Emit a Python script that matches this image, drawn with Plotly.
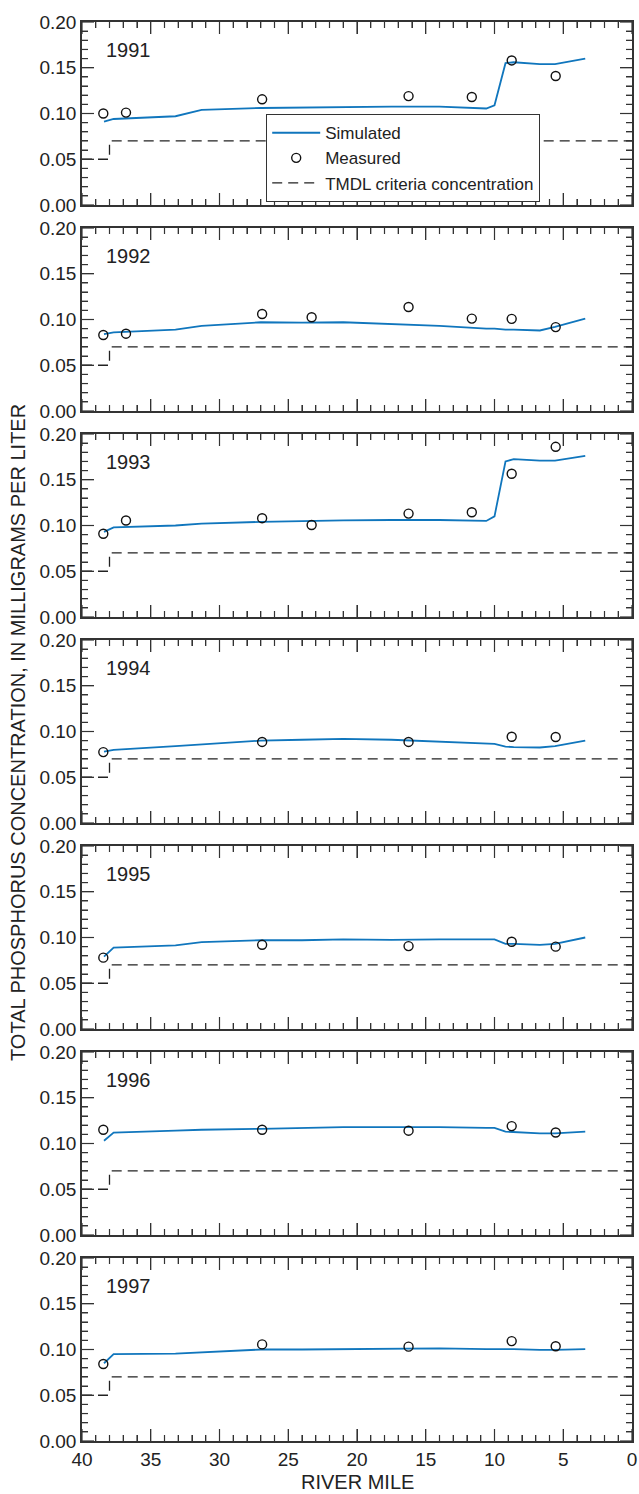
import plotly.graph_objects as go

# Panel years (top to bottom)
YEARS = [1991, 1992, 1993, 1994, 1995, 1996, 1997]

# River miles of simulated-profile nodes
SIM_MILES = [38.4, 37.7, 33.2, 31.3, 27.0, 24.0, 21.0, 17.5, 14.0, 10.6, 10.0, 9.2, 8.6, 6.7, 5.6, 3.4]

# Simulated total phosphorus (mg/L) at each node, per year
SIM_1991 = [0.091, 0.094, 0.097, 0.104, 0.106, 0.1065, 0.1075, 0.1075, 0.1075, 0.1055, 0.109, 0.155, 0.156, 0.154, 0.154, 0.160]
SIM_1992 = [0.084, 0.086, 0.089, 0.093, 0.097, 0.0965, 0.097, 0.095, 0.093, 0.090, 0.090, 0.089, 0.089, 0.088, 0.092, 0.101]
SIM_1993 = [0.093, 0.098, 0.100, 0.102, 0.104, 0.105, 0.1055, 0.106, 0.106, 0.105, 0.110, 0.170, 0.1725, 0.171, 0.171, 0.176]
SIM_1994 = [0.078, 0.080, 0.084, 0.086, 0.090, 0.091, 0.092, 0.091, 0.089, 0.0875, 0.0865, 0.0835, 0.083, 0.0825, 0.084, 0.090]
SIM_1995 = [0.079, 0.089, 0.0915, 0.095, 0.097, 0.097, 0.098, 0.0975, 0.098, 0.0975, 0.098, 0.093, 0.093, 0.092, 0.093, 0.100]
SIM_1996 = [0.103, 0.112, 0.114, 0.115, 0.116, 0.117, 0.118, 0.118, 0.118, 0.117, 0.117, 0.113, 0.1125, 0.111, 0.111, 0.113]
SIM_1997 = [0.085, 0.095, 0.0955, 0.097, 0.100, 0.100, 0.1005, 0.1005, 0.1013, 0.1005, 0.1005, 0.1005, 0.1005, 0.0995, 0.0995, 0.1005]

# Sampling-site river miles
SITE_MILES = [38.45, 36.8, 26.9, 23.3, 16.25, 11.65, 8.75, 5.55]

# Measured total phosphorus (mg/L); None where a site was not sampled
MEAS_1991 = [0.100, 0.101, 0.1155, None, 0.119, 0.118, 0.158, 0.141]
MEAS_1992 = [0.083, 0.0845, 0.106, 0.1025, 0.1137, 0.101, 0.1007, 0.0917]
MEAS_1993 = [0.091, 0.1055, 0.108, 0.1005, 0.113, 0.1145, 0.1566, 0.186]
MEAS_1994 = [0.0775, None, 0.0886, None, 0.0886, None, 0.0943, 0.094]
MEAS_1995 = [0.078, None, 0.092, None, 0.0906, None, 0.0953, 0.090]
MEAS_1996 = [0.115, None, 0.115, None, 0.114, None, 0.119, 0.112]
MEAS_1997 = [0.0841, None, 0.1056, None, 0.1031, None, 0.1092, 0.1035]

# TMDL criteria concentration step
TMDL_MILES = [40, 38, 38, 0]
TMDL_VALUES = [0.05, 0.05, 0.07, 0.07]

# Tick positions (river mile and concentration)
X_MAJOR = list(range(0, 41, 5))
X_MINOR = [v for v in range(0, 41) if v % 5]
Y_MAJOR = [k / 100 for k in range(0, 21, 5)]
Y_MINOR = [k / 100 for k in range(0, 21) if k % 5]

SIM = [SIM_1991, SIM_1992, SIM_1993, SIM_1994, SIM_1995, SIM_1996, SIM_1997]
MEAS = [MEAS_1991, MEAS_1992, MEAS_1993, MEAS_1994, MEAS_1995, MEAS_1996, MEAS_1997]

W, H = 639, 1494
M_L, M_R, M_T, M_B = 82, 7, 22, 52
PLOT_W = W - M_L - M_R
PLOT_H = H - M_T - M_B
PANEL_H, GAP = 183, 23
MAJOR_LEN, MINOR_LEN = 12, 6

FONT = "Liberation Sans, Arial, sans-serif"
TEXT_COLOR = "#222222"
AXIS_COLOR = "#333333"
BLUE = "#1076bd"
DASH = "10px,6px"

fig = go.Figure()
layout = dict()
annotations = []
shapes = []


def axis_style(major, minor):
    return dict(
        dtick=major, tick0=0,
        ticks="inside", ticklen=MAJOR_LEN, tickwidth=1.2, tickcolor=AXIS_COLOR,
        minor=dict(ticks="inside", ticklen=MINOR_LEN, dtick=minor, tickwidth=1.2, tickcolor=AXIS_COLOR),
        showline=True, linecolor=AXIS_COLOR, linewidth=1.5, mirror="allticks",
        showgrid=False, zeroline=False,
        tickfont=dict(family=FONT, size=19, color=TEXT_COLOR),
    )


def tick_marks(xa, ya):
    """Inward tick marks on all four sides of one panel."""
    out = []
    tick_line = dict(color=AXIS_COLOR, width=1.2)
    for vals, length in ((X_MAJOR, MAJOR_LEN), (X_MINOR, MINOR_LEN)):
        f = length / PANEL_H
        for v in vals:
            for y0, y1 in ((0, f), (1, 1 - f)):
                out.append(dict(type="line", xref=xa, yref=f"{ya} domain",
                                x0=v, x1=v, y0=y0, y1=y1, line=tick_line))
    for vals, length in ((Y_MAJOR, MAJOR_LEN), (Y_MINOR, MINOR_LEN)):
        f = length / PLOT_W
        for v in vals:
            for x0, x1 in ((0, f), (1, 1 - f)):
                out.append(dict(type="line", xref=f"{xa} domain", yref=ya,
                                x0=x0, x1=x1, y0=v, y1=v, line=tick_line))
    return out


for i, year in enumerate(YEARS):
    n = i + 1
    xa = "x" if n == 1 else f"x{n}"
    ya = "y" if n == 1 else f"y{n}"
    top_px = M_T + i * (PANEL_H + GAP)
    bot_px = top_px + PANEL_H
    dom = [1 - (bot_px - M_T) / PLOT_H, 1 - (top_px - M_T) / PLOT_H]
    first = i == 0
    last = i == len(YEARS) - 1

    # traces in legend order: simulated, measured, criteria
    fig.add_trace(go.Scatter(
        x=SIM_MILES, y=SIM[i], mode="lines", name="Simulated",
        line=dict(color=BLUE, width=1.8),
        xaxis=xa, yaxis=ya, showlegend=first))
    fig.add_trace(go.Scatter(
        x=SITE_MILES, y=MEAS[i], mode="markers", name="Measured",
        marker=dict(symbol="circle-open", size=9, color="#111111", line=dict(width=1.4)),
        xaxis=xa, yaxis=ya, showlegend=first))
    fig.add_trace(go.Scatter(
        x=TMDL_MILES, y=TMDL_VALUES, mode="lines", name="TMDL criteria concentration",
        line=dict(color=TEXT_COLOR, width=1.3, dash=DASH),
        xaxis=xa, yaxis=ya, showlegend=first))

    xkey = "xaxis" if n == 1 else f"xaxis{n}"
    ykey = "yaxis" if n == 1 else f"yaxis{n}"
    layout[xkey] = dict(domain=[0, 1], anchor=ya, range=[40, 0],
                        showticklabels=last, **axis_style(5, 1))
    layout[ykey] = dict(domain=dom, anchor=xa, range=[0, 0.2], tickformat=".2f",
                        **axis_style(0.05, 0.01))
    shapes.extend(tick_marks(xa, ya))
    annotations.append(dict(
        text=str(year), xref="paper", yref="paper",
        x=(104 - M_L) / PLOT_W, y=1 - (top_px + 28 - M_T) / PLOT_H,
        xanchor="left", yanchor="middle", showarrow=False,
        font=dict(family=FONT, size=20, color=TEXT_COLOR)))

annotations.append(dict(
    text="TOTAL PHOSPHORUS CONCENTRATION, IN MILLIGRAMS PER LITER",
    xref="paper", yref="paper", x=(18 - M_L) / PLOT_W, y=1 - (733 - M_T) / PLOT_H,
    xanchor="center", yanchor="middle", textangle=-90, showarrow=False,
    font=dict(family=FONT, size=20, color=TEXT_COLOR)))
annotations.append(dict(
    text="RIVER MILE", xref="paper", yref="paper",
    x=0.5, y=1 - (1482 - M_T) / PLOT_H, xanchor="center", yanchor="middle", showarrow=False,
    font=dict(family=FONT, size=20, color=TEXT_COLOR)))

fig.update_layout(
    width=W, height=H,
    margin=dict(l=M_L, r=M_R, t=M_T, b=M_B, autoexpand=False),
    paper_bgcolor="white", plot_bgcolor="white",
    annotations=annotations,
    shapes=shapes,
    showlegend=True,
    legend=dict(
        x=(266 - M_L) / PLOT_W, y=1 - (114 - M_T) / PLOT_H,
        xanchor="left", yanchor="top",
        bgcolor="white", bordercolor=AXIS_COLOR, borderwidth=1.2,
        font=dict(family=FONT, size=17, color=TEXT_COLOR),
        itemwidth=48,
    ),
    **layout,
)

fig.write_html("out.html")
